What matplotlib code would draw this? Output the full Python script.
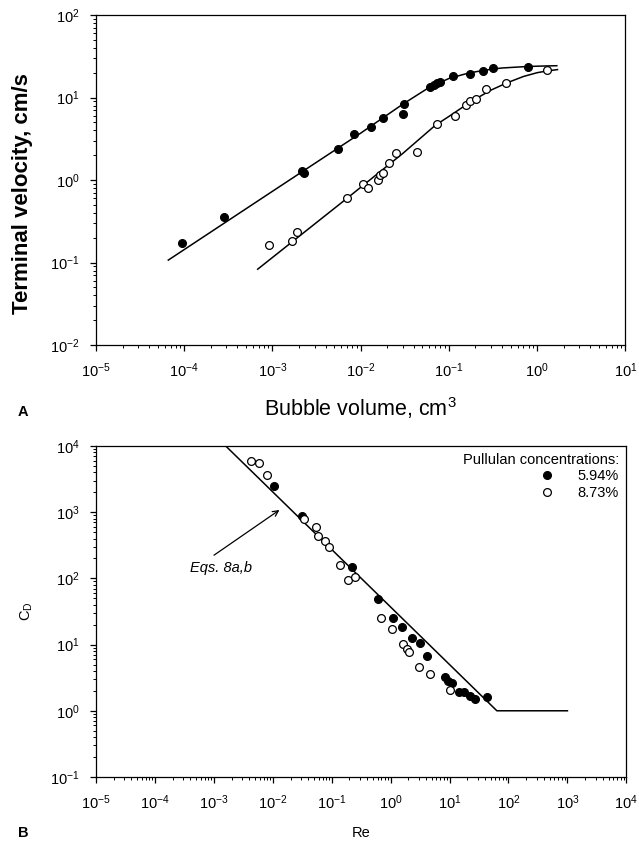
import numpy as np
import matplotlib
matplotlib.use('Agg')
import matplotlib.pyplot as plt
from matplotlib.ticker import LogLocator, NullFormatter

plt.rcParams['font.family'] = ['Liberation Sans', 'DejaVu Sans']
plt.rcParams['mathtext.fontset'] = 'custom'
plt.rcParams['mathtext.rm'] = 'Liberation Sans'
plt.rcParams['mathtext.it'] = 'Liberation Sans:italic'
plt.rcParams['mathtext.bf'] = 'Liberation Sans:bold'

# --- panel A: terminal velocity vs bubble volume ---
vol_594 = [9.5e-5, 2.8e-4, 2.18e-3, 2.25e-3, 5.5e-3, 8.4e-3, 0.013, 0.0178, 0.0308, 0.0305,
           0.061, 0.067, 0.073, 0.079, 0.112, 0.174, 0.246, 0.32, 0.785]
vel_594 = [0.174, 0.36, 1.3, 1.2, 2.38, 3.6, 4.43, 5.7, 8.3, 6.4,
           13.3, 14.2, 14.9, 15.5, 18.2, 19.1, 21.1, 23.0, 23.6]
vol_873 = [9.1e-4, 1.68e-3, 1.92e-3, 6.95e-3, 0.0105, 0.012, 0.0158, 0.0166, 0.018, 0.0211,
           0.0252, 0.044, 0.074, 0.117, 0.155, 0.174, 0.202, 0.264, 0.44, 1.29]
vel_873 = [0.163, 0.182, 0.236, 0.6, 0.887, 0.795, 1.0, 1.15, 1.2, 1.62,
           2.14, 2.2, 4.77, 6.0, 8.1, 9.1, 9.6, 12.6, 15.1, 21.5]

# model curves
fit_vol_594 = [6.6e-5, 1e-3, 1e-2, 3e-2, 6e-2, 0.1, 0.15, 0.2, 0.3, 0.4, 0.6, 0.8, 1.2, 1.67]
fit_vel_594 = [0.107, 0.73, 3.7, 8.3, 13.3, 17.0, 19.2, 20.5, 22.0, 22.8, 23.4, 23.8, 24.1, 24.3]
fit_vol_873 = [6.8e-4, 7e-3, 0.03, 0.07, 0.1, 0.15, 0.2, 0.3, 0.45, 0.7, 1.0, 1.3, 1.7]
fit_vel_873 = [0.083, 0.6, 2.1, 4.6, 5.9, 7.9, 9.6, 12.3, 15.0, 18.0, 20.0, 21.0, 21.8]

# --- panel B: drag coefficient vs Re ---
re_594 = [0.0106, 0.031, 0.225, 0.62, 1.11, 1.58, 2.28, 3.16, 4.1, 8.4,
          9.3, 11.0, 14.7, 17.7, 22.4, 27.2, 43.0]
cd_594 = [2500, 880, 150, 48.2, 25, 18.6, 12.4, 10.7, 6.7, 3.2,
          2.82, 2.6, 1.95, 1.9, 1.68, 1.5, 1.6]
re_873 = [4.2e-3, 5.85e-3, 8.1e-3, 0.034, 0.0537, 0.058, 0.077, 0.091, 0.139, 0.19,
          0.25, 0.69, 1.05, 1.61, 1.88, 2.09, 3.08, 4.7, 10.2]
cd_873 = [5940, 5620, 3610, 800, 590, 434, 369, 300, 158, 94,
          106, 25, 17, 10.1, 8.5, 7.8, 4.65, 3.6, 2.06]

eq_re = [1.59e-3, 63.5, 1000]
eq_cd = [1e4, 1.0, 1.0]

fig = plt.figure(figsize=(6.39, 8.44), dpi=100)
ax1 = fig.add_axes([0.1502, 0.5912, 0.8285, 0.391])
ax2 = fig.add_axes([0.1502, 0.0794, 0.8300, 0.3922])

mk = dict(linestyle='none', marker='o', markersize=5.6, markeredgewidth=0.9)

ax1.plot(fit_vol_594, fit_vel_594, color='black', lw=1.1)
ax1.plot(fit_vol_873, fit_vel_873, color='black', lw=1.1)
ax1.plot(vol_594, vel_594, color='black', markerfacecolor='black', markeredgecolor='black', **mk)
ax1.plot(vol_873, vel_873, color='black', markerfacecolor='white', markeredgecolor='black', **mk)

ax2.plot(eq_re, eq_cd, color='black', lw=1.1)
ax2.plot(re_594, cd_594, markerfacecolor='black', markeredgecolor='black',
         label='5.94%', **mk)
ax2.plot(re_873, cd_873, markerfacecolor='white', markeredgecolor='black',
         label='8.73%', **mk)

for ax, (x0, x1), (y0, y1) in [(ax1, (-5, 1), (-2, 2)), (ax2, (-5, 4), (-1, 4))]:
    ax.set_xscale('log')
    ax.set_yscale('log')
    ax.set_xlim(10.0 ** x0, 10.0 ** x1)
    ax.set_ylim(10.0 ** y0, 10.0 ** y1)
    ax.set_xticks([10.0 ** k for k in range(x0, x1 + 1)])
    ax.set_yticks([10.0 ** k for k in range(y0, y1 + 1)])
    ax.xaxis.set_minor_locator(LogLocator(base=10, subs=np.arange(2, 10), numticks=100))
    ax.yaxis.set_minor_locator(LogLocator(base=10, subs=np.arange(2, 10), numticks=100))
    ax.xaxis.set_minor_formatter(NullFormatter())
    ax.yaxis.set_minor_formatter(NullFormatter())
    ax.tick_params(which='major', direction='out', length=4, width=0.9, labelsize=10.5)
    ax.tick_params(which='minor', direction='out', length=2.2, width=0.7)
    ax.tick_params(axis='x', which='major', pad=8)
    ax.tick_params(axis='y', which='major', pad=8)
    for s in ax.spines.values():
        s.set_linewidth(0.9)

ax1.set_ylabel('Terminal velocity, cm/s', fontsize=16, fontweight='bold')
ax1.yaxis.set_label_coords(-0.119, 0.46)
ax1.set_xlabel('Bubble volume, cm$^3$', fontsize=15.5)
ax1.xaxis.set_label_coords(0.5, -0.152)
ax2.set_ylabel('C$_\\mathrm{D}$', fontsize=10.5)
ax2.yaxis.set_label_coords(-0.115, 0.5)
ax2.set_xlabel('Re', fontsize=10.5)
ax2.xaxis.set_label_coords(0.5, -0.148)

fig.text(18 / 639, 1 - 412 / 844, 'A', fontsize=10.5, fontweight='bold', va='center')
fig.text(18 / 639, 1 - 833 / 844, 'B', fontsize=10.5, fontweight='bold', va='center')

ax2.annotate('', xy=(0.0142, 1140), xytext=(9.2e-4, 212),
             arrowprops=dict(arrowstyle='->', color='black', lw=0.9))
ax2.text(3.95e-4, 143, 'Eqs. 8a,b', fontsize=10.5, style='italic', va='center')

leg = ax2.legend(loc='upper right', title='Pullulan concentrations:', frameon=False,
                 fontsize=10.5, title_fontsize=10.5, handlelength=1.0, handletextpad=1.6,
                 labelspacing=0.15, borderaxespad=0.3, alignment='right',
                 borderpad=0.2)

fig.savefig('out.png', dpi=100)
